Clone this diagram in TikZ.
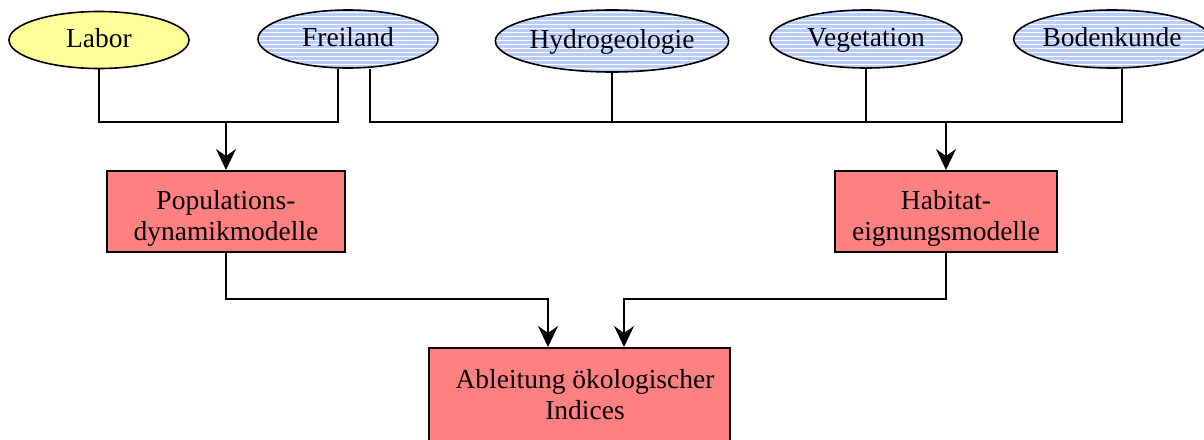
\documentclass[tikz,border=0pt]{standalone}
\usepackage{fontspec}
\setmainfont{Liberation Serif}
\usetikzlibrary{arrows.meta,shapes.geometric}
\definecolor{ylw}{RGB}{255,255,153}
\definecolor{stripeblue}{RGB}{185,206,255}
\definecolor{boxred}{RGB}{255,128,128}
\newcommand{\topstrut}{\rule{0pt}{26pt}}
\begin{document}
\begin{tikzpicture}[x=1pt,y=-1pt,
  font=\fontsize{27.5}{31}\selectfont,
  oval/.style={ellipse, draw, line width=1.6pt, inner sep=0pt,
    text height=19pt, text depth=5pt},
  yoval/.style={oval, fill=ylw},
  striped/.style={oval, fill=stripeblue,
    path picture={\foreach \k in {0,...,20}{
      \draw[white,line width=0.9pt]
        ([yshift=\k*4pt]path picture bounding box.south west) --
        ([yshift=\k*4pt]path picture bounding box.south east);}}},
  modelbox/.style={rectangle, draw, line width=2pt, fill=boxred,
    align=center, inner sep=0pt, text depth=0pt},
  conn/.style={line width=1.6pt},
  arr/.style={conn, -{Stealth[length=21pt,width=20pt,inset=7pt]}}]
\useasboundingbox (0,0) rectangle (1204,439);
\fill[white] (0,0) rectangle (1204,439);

% source ellipses
\node[yoval, minimum width=180pt, minimum height=57pt] (labor) at (99,40) {Labor};
\node[striped, minimum width=180pt, minimum height=58pt] (freiland) at (348,39) {Freiland};
\node[striped, minimum width=182pt, minimum height=62pt] (hydro) at (612,41) {Hydrogeologie};
\node[striped, minimum width=192pt, minimum height=58pt] (veget) at (866,39) {Vegetation};
\node[striped, minimum width=172pt, minimum height=58pt] (boden) at (1112,39) {Bodenkunde};

% model boxes
\node[modelbox, minimum width=238pt, minimum height=81pt] (pop) at (226,211.5) {\topstrut Populations-\\dynamikmodelle};
\node[modelbox, minimum width=222pt, minimum height=81pt] (hab) at (946,211.5) {\topstrut Habitat-\\eignungsmodelle};
\node[modelbox, minimum width=301pt, inner ysep=21pt, text depth=8pt, anchor=north] (abl) at (579.5,347)
  {\hspace*{11pt}Ableitung ökologischer\\\hspace*{11pt}Indices};

% junctions
\coordinate (jL) at (338,122);
\coordinate (jR) at (370,122);
\coordinate (jB) at (1122,122);
\coordinate (jP) at (548,299);
\coordinate (jH) at (624,299);

% connectors
\draw[conn] (labor.south) |- (jL) -- (jL |- freiland.south);
\draw[arr] (pop.north |- jL) -- (pop.north);
\draw[conn] (jR |- freiland.south) -- (jR) -- (jB) -- (jB |- boden.south);
\draw[conn] (hydro.south) -- (hydro.south |- jR);
\draw[conn] (veget.south) -- (veget.south |- jR);
\draw[arr] (hab.north |- jR) -- (hab.north);
\draw[arr] (pop.south) |- (jP) -- (jP |- abl.north);
\draw[arr] (hab.south) |- (jH) -- (jH |- abl.north);
\end{tikzpicture}
\end{document}
